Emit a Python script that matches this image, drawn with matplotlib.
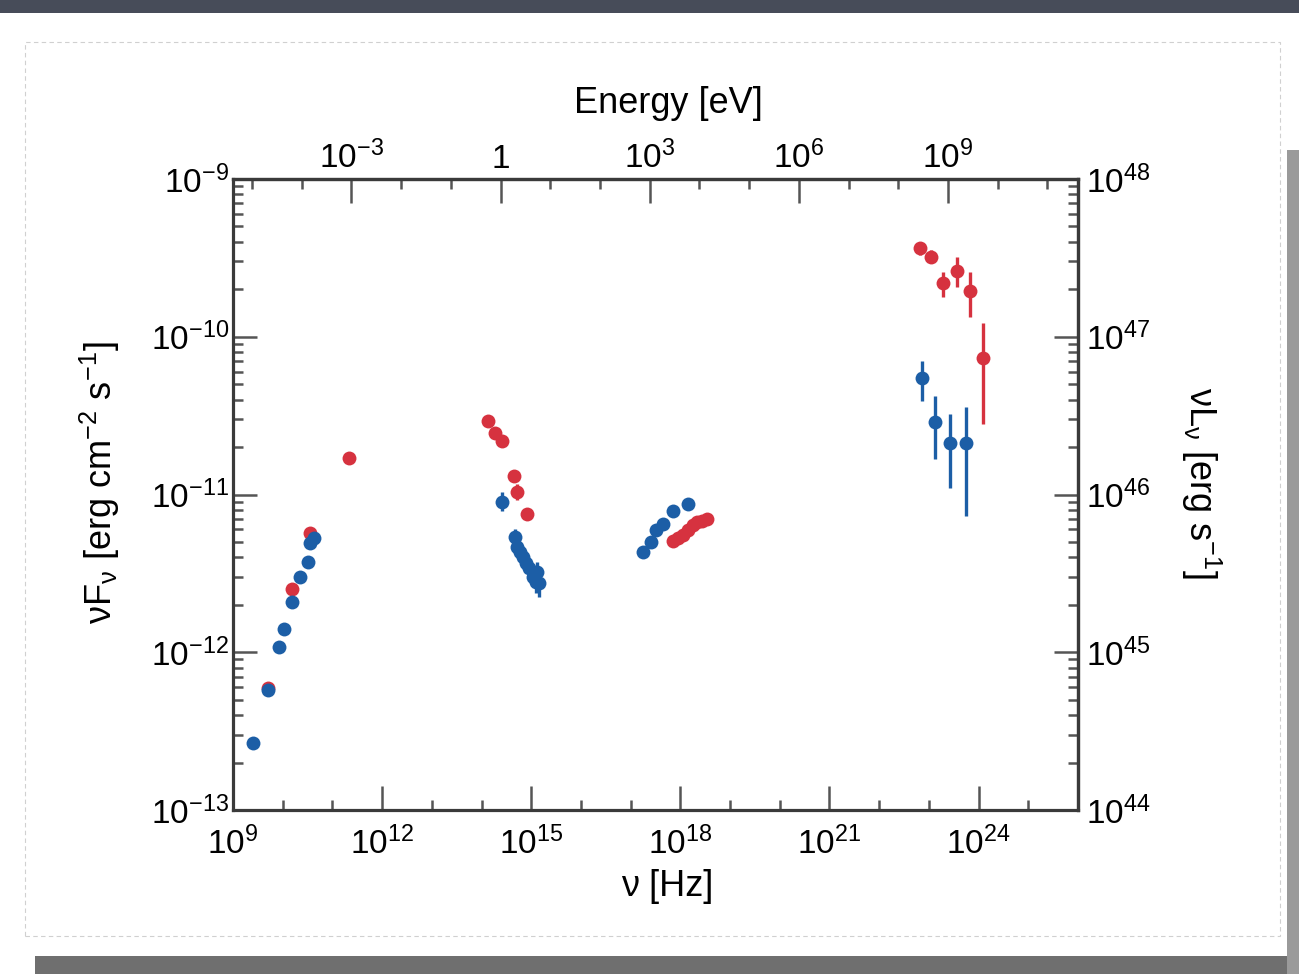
import numpy as np
import matplotlib
matplotlib.use("Agg")
import matplotlib.pyplot as plt
from matplotlib.patches import Rectangle
from matplotlib.ticker import FixedLocator, NullFormatter

plt.rcParams['font.family'] = ['Liberation Sans', 'DejaVu Sans']
plt.rcParams['mathtext.fontset'] = 'custom'
plt.rcParams['mathtext.rm'] = 'Liberation Sans'
plt.rcParams['mathtext.it'] = 'Liberation Sans:italic'
plt.rcParams['mathtext.default'] = 'regular'
plt.rcParams['axes.unicode_minus'] = False

# ---------------- data (log10 values) ----------------
# Radio / mm (red state, blue state)
red_radio_lognu = [9.70, 10.19, 10.54, 11.34]
red_radio_logF = [-12.225, -11.60, -11.246, -10.771]
blue_radio_lognu = [9.40, 9.70, 9.93, 10.03, 10.19, 10.35, 10.50, 10.54, 10.62]
blue_radio_logF = [-12.573, -12.239, -11.969, -11.851, -11.680, -11.525, -11.428, -11.309, -11.278]

# IR / optical / UV
red_opt_lognu = [14.14, 14.27, 14.41, 14.66, 14.72, 14.91]
red_opt_logF = [-10.532, -10.608, -10.663, -10.883, -10.982, -11.124]
red_opt_err = [0.02, 0.02, 0.02, 0.03, 0.05, 0.02]
blue_opt_lognu = [14.41, 14.67, 14.72, 14.78, 14.83, 14.90, 14.96, 15.04, 15.11, 15.10, 15.16]
blue_opt_logF = [-11.046, -11.271, -11.331, -11.362, -11.394, -11.436, -11.468, -11.521, -11.489, -11.553, -11.559]
blue_opt_err = [0.06, 0.05, 0.05, 0.06, 0.05, 0.06, 0.05, 0.06, 0.06, 0.07, 0.09]

# X-ray
red_x_lognu = [17.85, 17.95, 18.05, 18.16, 18.26, 18.34, 18.44, 18.54]
red_x_logF = [-11.295, -11.276, -11.257, -11.225, -11.193, -11.174, -11.168, -11.155]
red_x_err = [0.04, 0.04, 0.04, 0.04, 0.04, 0.04, 0.04, 0.04]
blue_x_lognu = [17.24, 17.40, 17.51, 17.65, 17.85, 18.16]
blue_x_logF = [-11.363, -11.301, -11.225, -11.189, -11.103, -11.060]

# gamma-ray (value, lower bound, upper bound)
red_g_lognu = [22.82, 23.04, 23.29, 23.56, 23.82, 24.09]
red_g_logF = [-9.439, -9.493, -9.657, -9.581, -9.710, -10.133]
red_g_lo = [-9.48, -9.53, -9.746, -9.687, -9.873, -10.553]
red_g_hi = [-9.40, -9.45, -9.588, -9.496, -9.588, -9.911]
blue_g_lognu = [22.86, 23.13, 23.43, 23.75]
blue_g_logF = [-10.263, -10.539, -10.675, -10.675]
blue_g_lo = [-10.405, -10.777, -10.961, -11.136]
blue_g_hi = [-10.152, -10.376, -10.490, -10.443]

# axis ticks (exponents)
x_major_exp = [9, 12, 15, 18, 21, 24]
y_major_exp = [-13, -12, -11, -10, -9]
e_major_exp = [-3, 0, 3, 6, 9]
l_major_exp = [44, 45, 46, 47, 48]

RED = '#d6323f'
BLUE = '#1c5ea6'
H_EV = 4.135667e-15       # Planck constant [eV s]
LUM_FACTOR = 1e57         # nuF_nu -> nuL_nu conversion

# ---------------- figure ----------------
fig = plt.figure(figsize=(12.99, 9.74), dpi=100)
fig.patch.set_facecolor('white')
W, Hh = 1299.0, 974.0
# decorative paper edges
fig.add_artist(Rectangle((0, 1 - 13 / Hh), 1, 13 / Hh, transform=fig.transFigure,
                         facecolor='#474c59', edgecolor='none', zorder=0))
fig.add_artist(Rectangle((35 / W, 0), 1, 18 / Hh, transform=fig.transFigure,
                         facecolor='#6f6f6f', edgecolor='none', zorder=0))
fig.add_artist(Rectangle((1 - 12 / W, 0), 12 / W, 1 - 150 / Hh, transform=fig.transFigure,
                         facecolor='#9a9a9a', edgecolor='none', zorder=0))
fig.add_artist(Rectangle((25 / W, 38 / Hh), 1255 / W, (Hh - 80) / Hh, transform=fig.transFigure,
                         facecolor='none', edgecolor='#d0d0d0', lw=0.8, ls=(0, (4, 3)), zorder=0))

ax = fig.add_axes([233 / W, 1 - 810 / Hh, (1078 - 233) / W, (810 - 179) / Hh])
ax.set_xscale('log')
ax.set_yscale('log')
ax.set_xlim(1e9, 1e26)
ax.set_ylim(1e-13, 1e-9)

def p(a):
    return 10 ** np.asarray(a, dtype=float)

def sym_err(logv, err):
    logv = np.asarray(logv, dtype=float)
    err = np.asarray(err, dtype=float)
    return [p(logv) - p(logv - err), p(logv + err) - p(logv)]

ms = 10
elw = 2.4
kw = dict(fmt='o', ms=ms, mec='none', elinewidth=elw, capsize=0)

# red state
ax.plot(p(red_radio_lognu), p(red_radio_logF), 'o', color=RED, ms=ms, mec='none', zorder=3)
ax.errorbar(p(red_opt_lognu), p(red_opt_logF), yerr=sym_err(red_opt_logF, red_opt_err),
            color=RED, zorder=3, **kw)
ax.errorbar(p(red_x_lognu), p(red_x_logF), yerr=sym_err(red_x_logF, red_x_err),
            color=RED, zorder=3, **kw)
ax.errorbar(p(red_g_lognu), p(red_g_logF),
            yerr=[p(red_g_logF) - p(red_g_lo), p(red_g_hi) - p(red_g_logF)],
            color=RED, zorder=3, **kw)

# blue state
ax.plot(p(blue_radio_lognu), p(blue_radio_logF), 'o', color=BLUE, ms=ms, mec='none', zorder=4)
ax.errorbar(p(blue_opt_lognu), p(blue_opt_logF), yerr=sym_err(blue_opt_logF, blue_opt_err),
            color=BLUE, zorder=4, **kw)
ax.plot(p(blue_x_lognu), p(blue_x_logF), 'o', color=BLUE, ms=ms, mec='none', zorder=4)
ax.errorbar(p(blue_g_lognu), p(blue_g_logF),
            yerr=[p(blue_g_logF) - p(blue_g_lo), p(blue_g_hi) - p(blue_g_logF)],
            color=BLUE, zorder=4, **kw)

# ---------------- axes styling ----------------
SPINE = '#3a3a3a'
TICKC = '#555555'
for s in ax.spines.values():
    s.set_linewidth(2.3)
    s.set_color(SPINE)

FS_TICK = 24
FS_LAB = 26

def pow_fmt(v, pos):
    e = int(round(np.log10(v)))
    return '1' if e == 0 else r'$10^{%d}$' % e

def minor_list(lo, hi):
    vals = []
    for k in range(lo, hi):
        for m in range(2, 10):
            vals.append(m * 10.0 ** k)
    return vals

ax.xaxis.set_major_locator(FixedLocator([10.0 ** k for k in x_major_exp]))
ax.xaxis.set_minor_locator(FixedLocator([10.0 ** k for k in range(9, 27)]))
ax.xaxis.set_major_formatter(plt.FuncFormatter(pow_fmt))
ax.xaxis.set_minor_formatter(NullFormatter())
ax.yaxis.set_major_locator(FixedLocator([10.0 ** k for k in y_major_exp]))
ax.yaxis.set_minor_locator(FixedLocator(minor_list(-13, -9)))
ax.yaxis.set_major_formatter(plt.FuncFormatter(pow_fmt))
ax.yaxis.set_minor_formatter(NullFormatter())

ax.tick_params(which='major', direction='in', length=17, width=1.8, color=TICKC,
               labelsize=FS_TICK, top=False, right=False)
ax.tick_params(which='minor', direction='in', length=7, width=1.8, color=TICKC,
               top=False, right=False)
ax.tick_params(axis='x', which='major', pad=12)
ax.tick_params(axis='y', which='major', pad=3)

ax.set_xlabel('ν [Hz]', fontsize=FS_LAB)
ax.xaxis.set_label_coords(0.514, -0.122)
ax.xaxis.label.set_va('center')
ax.set_ylabel(r'$\nu F_\nu$ [erg cm$^{-2}$ s$^{-1}$]', fontsize=FS_LAB)
ax.yaxis.set_label_coords(-0.157, 0.518)
ax.yaxis.label.set_va('center')

# top axis: energy
secx = ax.secondary_xaxis('top', functions=(lambda x: x * H_EV, lambda e: e / H_EV))
secx.set_xscale('log')
secx.xaxis.set_major_locator(FixedLocator([10.0 ** k for k in e_major_exp]))
secx.xaxis.set_minor_locator(FixedLocator([10.0 ** k for k in range(-5, 12)]))
secx.xaxis.set_major_formatter(plt.FuncFormatter(pow_fmt))
secx.xaxis.set_minor_formatter(NullFormatter())
secx.tick_params(which='major', direction='in', length=17, width=1.8, color=TICKC,
                 labelsize=FS_TICK, pad=3)
secx.tick_params(which='minor', direction='in', length=7, width=1.8, color=TICKC)
secx.spines['top'].set_linewidth(2.3)
secx.spines['top'].set_color(SPINE)
ax.text(0.515, 1.12, 'Energy [eV]', transform=ax.transAxes, fontsize=FS_LAB,
        ha='center', va='center')

# right axis: luminosity
secy = ax.secondary_yaxis('right', functions=(lambda f: f * LUM_FACTOR, lambda l: l / LUM_FACTOR))
secy.set_yscale('log')
secy.yaxis.set_major_locator(FixedLocator([10.0 ** k for k in l_major_exp]))
secy.yaxis.set_minor_locator(FixedLocator(minor_list(44, 48)))
secy.yaxis.set_major_formatter(plt.FuncFormatter(pow_fmt))
secy.yaxis.set_minor_formatter(NullFormatter())
secy.tick_params(which='major', direction='in', length=17, width=1.8, color=TICKC,
                 labelsize=FS_TICK, pad=6)
secy.tick_params(which='minor', direction='in', length=7, width=1.8, color=TICKC)
secy.spines['right'].set_linewidth(2.3)
secy.spines['right'].set_color(SPINE)
ax.text(1.146, 0.518, r'$\nu L_\nu$ [erg s$^{-1}$]', transform=ax.transAxes, fontsize=FS_LAB,
        rotation=-90, ha='center', va='center', rotation_mode='anchor')

fig.savefig('out.png', dpi=100, facecolor=fig.get_facecolor())
